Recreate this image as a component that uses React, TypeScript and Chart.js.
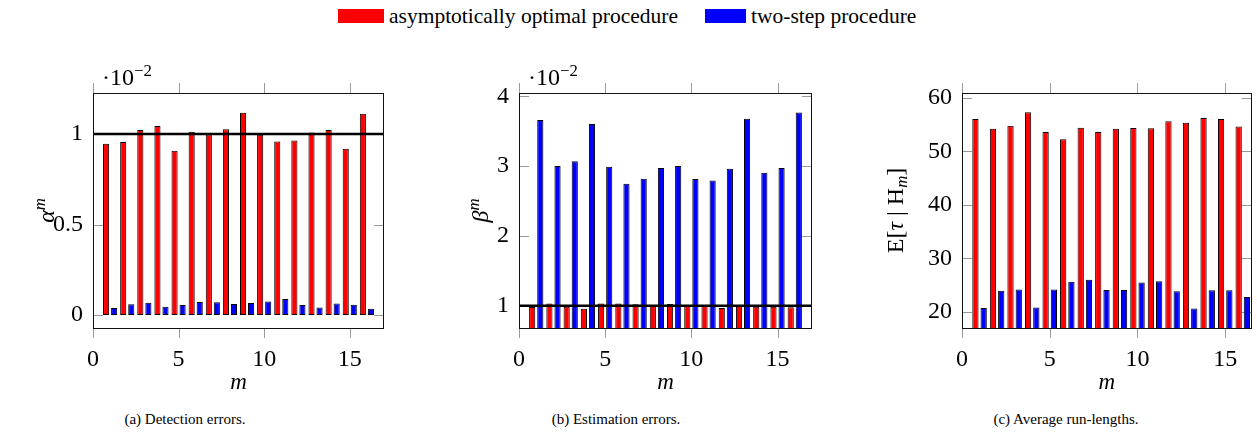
import React, { useEffect, useRef } from "react";
import { Chart, registerables } from "chart.js";

Chart.register(...registerables);

const SERIF = "'Liberation Serif', 'Times New Roman', serif";

// ---------------- data ----------------
const mIndex = [1, 2, 3, 4, 5, 6, 7, 8, 9, 10, 11, 12, 13, 14, 15, 16];
const xTickValues = [0, 5, 10, 15];

const seriesNames = ["asymptotically optimal procedure", "two-step procedure"];
const seriesColors = ["#ff0000", "#0000ff"];

// (a) detection errors, in units of 10^-2
const detectionOptimal = [0.947, 0.956, 1.022, 1.044, 0.908, 1.013, 0.998, 1.026, 1.118, 0.996, 0.959, 0.965, 1.009, 1.022, 0.919, 1.112];
const detectionTwoStep = [0.039, 0.059, 0.068, 0.046, 0.055, 0.072, 0.07, 0.061, 0.066, 0.074, 0.088, 0.055, 0.042, 0.063, 0.057, 0.035];
const detectionTicks = [0, 0.5, 1];
const detectionTarget = 1;

// (b) estimation errors, in units of 10^-2
const estimationOptimal = [0.981, 1.033, 0.986, 0.957, 1.033, 1.033, 1.019, 1.01, 1.024, 1.005, 1.005, 0.967, 1.005, 0.986, 0.986, 0.976];
const estimationTwoStep = [3.661, 3.002, 3.069, 3.604, 2.992, 2.749, 2.82, 2.973, 3.002, 2.816, 2.796, 2.964, 3.68, 2.906, 2.973, 3.771];
const estimationTicks = [1, 2, 3, 4];
const estimationTarget = 1;

// (c) average run-lengths
const runLengthOptimal = [56.07, 54.26, 54.82, 57.32, 53.63, 52.26, 54.45, 53.63, 54.26, 54.38, 54.32, 55.63, 55.38, 56.26, 56.07, 54.68];
const runLengthTwoStep = [20.69, 23.93, 24.18, 20.81, 24.18, 25.62, 25.99, 24.06, 24.06, 25.49, 25.68, 23.81, 20.62, 24.0, 24.0, 22.75];
const runLengthTicks = [20, 30, 40, 50, 60];

const captions = ["(a) Detection errors.", "(b) Estimation errors.", "(c) Average run-lengths."];

// ---------------- text helpers ----------------
type Part = { t: string; italic?: boolean; script?: "sup" | "sub" };

function partFont(p: Part, size: number) {
  const s = p.script ? size * 0.7 : size;
  return `${p.italic ? "italic " : ""}${s}px ${SERIF}`;
}
function measureParts(ctx: CanvasRenderingContext2D, parts: Part[], size: number) {
  let w = 0;
  for (const p of parts) {
    ctx.font = partFont(p, size);
    w += ctx.measureText(p.t).width;
  }
  return w;
}
function fillParts(ctx: CanvasRenderingContext2D, parts: Part[], size: number, x: number, y: number) {
  let cx = x;
  ctx.textBaseline = "alphabetic";
  ctx.textAlign = "left";
  for (const p of parts) {
    ctx.font = partFont(p, size);
    const dy = p.script === "sup" ? -0.36 * size : p.script === "sub" ? 0.17 * size : 0;
    ctx.fillText(p.t, cx, y + dy);
    cx += ctx.measureText(p.t).width;
  }
}

// ---------------- pgfplots-like decorations ----------------
const pgfDecor = {
  id: "pgfDecor",
  beforeDatasetsDraw(chart: any) {
    const { ctx, chartArea: ca, scales } = chart;
    const L = 10;
    ctx.save();
    ctx.strokeStyle = "#9a9a9a";
    ctx.lineWidth = 1;
    ctx.beginPath();
    for (const t of scales.x.ticks) {
      const px = Math.round(scales.x.getPixelForValue(t.value)) + 0.5;
      ctx.moveTo(px, ca.bottom);
      ctx.lineTo(px, ca.bottom + L);
      ctx.moveTo(px, ca.top - L);
      ctx.lineTo(px, ca.top);
    }
    for (const t of scales.y.ticks) {
      const py = Math.round(scales.y.getPixelForValue(t.value)) + 0.5;
      ctx.moveTo(ca.left, py);
      ctx.lineTo(ca.left + L, py);
      ctx.moveTo(ca.right - L, py);
      ctx.lineTo(ca.right, py);
    }
    ctx.stroke();
    ctx.restore();
  },
  afterDatasetsDraw(chart: any, _args: any, opts: any) {
    const { ctx, chartArea: ca } = chart;
    ctx.save();
    ctx.strokeStyle = "#111";
    ctx.lineWidth = 1;
    ctx.strokeRect(Math.round(ca.left) + 0.5, Math.round(ca.top) + 0.5, Math.round(ca.right - ca.left) - 1, Math.round(ca.bottom - ca.top));
    ctx.fillStyle = "#000";
    if (opts.exponent) {
      fillParts(ctx, opts.exponent, 24, ca.left + 9, opts.exponentBaseline);
    }
    if (opts.yTitle) {
      const size = opts.yTitleSize;
      const w = measureParts(ctx, opts.yTitle, size);
      ctx.translate(opts.yTitleBaseline, (ca.top + ca.bottom) / 2);
      ctx.rotate(-Math.PI / 2);
      fillParts(ctx, opts.yTitle, size, -w / 2, 0);
    }
    ctx.restore();
  },
};

// ---------------- layout ----------------
const CANVAS_TOP = 40;
const CANVAS_H = 368;
const PLOT_TOP = 53;
const PLOT_H = 235;

type Spec = {
  left: number;
  w: number;
  plotLeft: number;
  plotRight: number;
  xMax: number;
  yMin: number;
  yMax: number;
  yTicks: number[];
  optimal: number[];
  twoStep: number[];
  target?: number;
  yTitle: Part[];
  yTitleBaseline: number;
  exponent?: Part[];
};

const specs: Spec[] = [
  {
    left: 0, w: 400, plotLeft: 93, plotRight: 384,
    xMax: 17, yMin: -0.072, yMax: 1.227, yTicks: detectionTicks,
    optimal: detectionOptimal, twoStep: detectionTwoStep, target: detectionTarget,
    yTitle: [{ t: "α", italic: true }, { t: "m", italic: true, script: "sup" }], yTitleBaseline: 54,
    exponent: [{ t: "·10" }, { t: "−2", script: "sup" }],
  },
  {
    left: 420, w: 410, plotLeft: 99, plotRight: 392,
    xMax: 17, yMin: 0.68, yMax: 4.049, yTicks: estimationTicks,
    optimal: estimationOptimal, twoStep: estimationTwoStep, target: estimationTarget,
    yTitle: [{ t: "β", italic: true }, { t: "m", italic: true, script: "sup" }], yTitleBaseline: 68,
    exponent: [{ t: "·10" }, { t: "−2", script: "sup" }],
  },
  {
    left: 840, w: 417, plotLeft: 122, plotRight: 414,
    xMax: 16.5, yMin: 16.95, yMax: 60.94, yTicks: runLengthTicks,
    optimal: runLengthOptimal, twoStep: runLengthTwoStep,
    yTitle: [{ t: "E[" }, { t: "τ", italic: true }, { t: " | H" }, { t: "m", italic: true, script: "sub" }, { t: "]" }],
    yTitleBaseline: 63,
  },
];

function buildConfig(spec: Spec): any {
  const datasets: any[] = [];
  if (spec.target !== undefined) {
    datasets.push({
      type: "line",
      data: [
        { x: 0, y: spec.target },
        { x: spec.xMax, y: spec.target },
      ],
      borderColor: "#000",
      borderWidth: 2.6,
      pointRadius: 0,
      order: 0,
    });
  }
  [spec.optimal, spec.twoStep].forEach((vals, k) => {
    datasets.push({
      type: "bar",
      label: seriesNames[k],
      data: mIndex.map((m, i) => ({ x: m, y: vals[i] })),
      backgroundColor: seriesColors[k],
      borderColor: "#000",
      borderWidth: 1,
      borderSkipped: false,
      categoryPercentage: 0.94,
      barPercentage: 0.76,
      order: 1,
    });
  });
  const tickFont = { family: SERIF, size: 24, lineHeight: 1 };
  return {
    type: "bar",
    data: { datasets },
    options: {
      responsive: false,
      animation: false,
      devicePixelRatio: 1,
      layout: { padding: { left: 0, top: PLOT_TOP, right: spec.w - spec.plotRight, bottom: 0 } },
      plugins: {
        legend: { display: false },
        tooltip: { enabled: false },
        pgfDecor: {
          yTitle: spec.yTitle,
          yTitleSize: 24,
          yTitleBaseline: spec.yTitleBaseline,
          exponent: spec.exponent,
          exponentBaseline: 85 - CANVAS_TOP,
        },
      },
      scales: {
        x: {
          type: "linear",
          min: 0,
          max: spec.xMax,
          offset: false,
          bounds: "data",
          grid: { display: false, drawTicks: false },
          border: { display: false },
          ticks: { font: tickFont, color: "#000", padding: 19.5, autoSkip: false, maxRotation: 0, callback: (v: number) => String(v) },
          afterBuildTicks: (s: any) => {
            s.ticks = xTickValues.map((v) => ({ value: v }));
          },
          afterFit: (s: any) => {
            s.height = CANVAS_H - PLOT_TOP - PLOT_H;
          },
          title: {
            display: true,
            text: "m",
            color: "#000",
            font: { family: SERIF, size: 23, style: "italic", lineHeight: 1 },
            padding: { top: 0, bottom: 14 },
          },
        },
        y: {
          type: "linear",
          min: spec.yMin,
          max: spec.yMax,
          beginAtZero: false,
          bounds: "data",
          grid: { display: false, drawTicks: false },
          border: { display: false },
          ticks: { font: tickFont, color: "#000", padding: 10, autoSkip: false, callback: (v: number) => String(v) },
          afterBuildTicks: (s: any) => {
            s.ticks = spec.yTicks.map((v) => ({ value: v }));
          },
          afterFit: (s: any) => {
            s.width = spec.plotLeft;
          },
        },
      },
    },
    plugins: [pgfDecor],
  };
}

function PgfBarChart({ spec }: { spec: Spec }) {
  const ref = useRef<HTMLCanvasElement>(null);
  useEffect(() => {
    const chart = new Chart(ref.current as HTMLCanvasElement, buildConfig(spec));
    return () => chart.destroy();
  }, [spec]);
  return (
    <canvas
      ref={ref}
      width={spec.w}
      height={CANVAS_H}
      style={{ position: "absolute", left: spec.left, top: CANVAS_TOP, width: spec.w, height: CANVAS_H }}
    />
  );
}

const captionCenters = [185, 616, 1066];

export default function App() {
  const legendText: React.CSSProperties = {
    position: "absolute",
    top: 3,
    fontFamily: SERIF,
    fontSize: 21.5,
    lineHeight: "26px",
    whiteSpace: "nowrap",
    color: "#000",
  };
  return (
    <div style={{ position: "absolute", left: 0, top: 0, width: 1257, height: 441, background: "#fff", overflow: "hidden" }}>
      <div style={{ position: "absolute", left: 338, top: 9, width: 46, height: 14, background: seriesColors[0] }} />
      <div style={{ ...legendText, left: 389 }}>{seriesNames[0]}</div>
      <div style={{ position: "absolute", left: 705, top: 9, width: 41, height: 14, background: seriesColors[1] }} />
      <div style={{ ...legendText, left: 751 }}>{seriesNames[1]}</div>
      {specs.map((s, i) => (
        <PgfBarChart key={i} spec={s} />
      ))}
      {captions.map((c, i) => (
        <div
          key={i}
          style={{
            position: "absolute",
            left: captionCenters[i] - 150,
            width: 300,
            top: 409,
            textAlign: "center",
            fontFamily: SERIF,
            fontSize: 15,
            lineHeight: "20px",
            whiteSpace: "nowrap",
            color: "#000",
          }}
        >
          {c}
        </div>
      ))}
    </div>
  );
}
